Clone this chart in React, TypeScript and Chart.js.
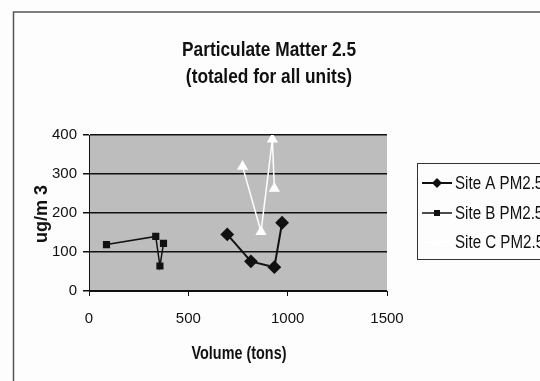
import React, { useEffect, useRef } from "react";
import { Chart, registerables } from "chart.js";

Chart.register(...registerables);

const titleLines = ["Particulate Matter 2.5", "(totaled for all units)"];
const xAxisTitle = "Volume (tons)";
const yAxisTitle = "ug/m 3";
const seriesNames = ["Site A PM2.5", "Site B PM2.5", "Site C PM2.5"];

const siteAX = [696, 815, 933, 972];
const siteAY = [145, 76, 61, 175];
const siteBX = [88, 336, 357, 375];
const siteBY = [119, 140, 64, 122];
const siteCX = [773, 866, 923, 933];
const siteCY = [319, 152, 389, 263];

const xTicks = [0, 500, 1000, 1500];
const yTicks = [0, 100, 200, 300, 400];

const FONT = '"Liberation Sans", Arial, sans-serif';

const toPts = (xs: number[], ys: number[]) => xs.map((x, i) => ({ x, y: ys[i] }));

function narrowText(ctx: any, text: string, x: number, y: number, sx: number, rot = 0) {
  ctx.save();
  ctx.translate(x, y);
  if (rot) ctx.rotate(rot);
  ctx.scale(sx, 1);
  ctx.fillText(text, 0, 0);
  ctx.restore();
}

const decorPlugin = {
  id: "decor",
  beforeDraw(chart: any) {
    const { ctx, chartArea } = chart;
    ctx.save();
    ctx.fillStyle = "#fdfdfd";
    ctx.fillRect(0, 0, chart.width, chart.height);
    ctx.strokeStyle = "#555";
    ctx.lineWidth = 1.5;
    ctx.beginPath();
    ctx.moveTo(13.5, chart.height);
    ctx.lineTo(13.5, 12);
    ctx.lineTo(chart.width, 12);
    ctx.stroke();
    ctx.fillStyle = "#bdbdbd";
    ctx.fillRect(chartArea.left, chartArea.top, chartArea.right - chartArea.left, chartArea.bottom - chartArea.top);
    ctx.restore();
  },
  afterDraw(chart: any) {
    const { ctx } = chart;
    ctx.save();
    ctx.fillStyle = "#111";
    ctx.textAlign = "center";
    ctx.textBaseline = "middle";
    ctx.font = `bold 20px ${FONT}`;
    narrowText(ctx, titleLines[0], 269, 50, 0.865);
    narrowText(ctx, titleLines[1], 269, 77, 0.865);
    ctx.font = `bold 18px ${FONT}`;
    narrowText(ctx, xAxisTitle, 239, 354, 0.8);
    narrowText(ctx, yAxisTitle, 42, 214, 1, -Math.PI / 2);

    ctx.strokeStyle = "#333";
    ctx.lineWidth = 1;
    ctx.strokeRect(417.5, 163.5, 200, 96);
    const rows = [183, 213, 242];
    const sets = chart.data.datasets;
    ctx.textAlign = "left";
    ctx.font = `18px ${FONT}`;
    rows.forEach((y, i) => {
      const ds = sets[i];
      ctx.strokeStyle = ds.borderColor;
      ctx.lineWidth = ds.borderWidth;
      ctx.beginPath();
      ctx.moveTo(422, y);
      ctx.lineTo(452, y);
      ctx.stroke();
      ctx.fillStyle = ds.pointBackgroundColor;
      ctx.beginPath();
      if (ds.pointStyle === "rectRot") {
        ctx.moveTo(437, y - 5);
        ctx.lineTo(442, y);
        ctx.lineTo(437, y + 5);
        ctx.lineTo(432, y);
        ctx.closePath();
        ctx.fill();
      } else if (ds.pointStyle === "rect") {
        ctx.fillRect(434, y - 3, 6, 6);
      } else {
        ctx.moveTo(437, y - 5);
        ctx.lineTo(442, y + 4);
        ctx.lineTo(432, y + 4);
        ctx.closePath();
        ctx.fill();
      }
      ctx.fillStyle = "#111";
      narrowText(ctx, ds.label, 455, y + 1, 0.84);
    });
    ctx.restore();
  },
};

export default function App() {
  const ref = useRef<HTMLCanvasElement | null>(null);
  useEffect(() => {
    document.body.style.margin = "0";
    const canvas = ref.current!;
    const chart = new Chart(canvas, {
      type: "scatter",
      data: {
        datasets: [
          {
            label: seriesNames[0],
            data: toPts(siteAX, siteAY),
            showLine: true,
            borderColor: "#111",
            borderWidth: 2,
            pointStyle: "rectRot",
            pointRadius: 5.5,
            pointBackgroundColor: "#111",
            pointBorderColor: "#111",
          },
          {
            label: seriesNames[1],
            data: toPts(siteBX, siteBY),
            showLine: true,
            borderColor: "#111",
            borderWidth: 1.5,
            pointStyle: "rect",
            pointRadius: 4,
            pointBackgroundColor: "#111",
            pointBorderColor: "#111",
          },
          {
            label: seriesNames[2],
            data: toPts(siteCX, siteCY),
            showLine: true,
            borderColor: "#ffffff",
            borderWidth: 1.5,
            pointStyle: "triangle",
            pointRadius: 5,
            pointBackgroundColor: "#ffffff",
            pointBorderColor: "#ffffff",
          },
        ],
      },
      options: {
        animation: false,
        responsive: false,
        devicePixelRatio: 1,
        layout: { padding: { left: 0, top: 135, right: 153, bottom: 0 } },
        plugins: { legend: { display: false }, title: { display: false }, tooltip: { enabled: false } },
        scales: {
          x: {
            type: "linear",
            min: xTicks[0],
            max: xTicks[xTicks.length - 1],
            afterFit: (s: any) => { s.height = 90; },
            afterBuildTicks: (s: any) => { s.ticks = xTicks.map((v) => ({ value: v })); },
            ticks: { color: "#111", font: { family: FONT, size: 15 }, padding: 14, maxRotation: 0, callback: (v: any) => String(v) },
            grid: { drawOnChartArea: false, drawTicks: true, tickLength: 5, color: "#111", lineWidth: 1 },
            border: { display: true, color: "#111", width: 1 },
          },
          y: {
            type: "linear",
            min: yTicks[0],
            max: yTicks[yTicks.length - 1],
            afterFit: (s: any) => { s.width = 89; },
            afterBuildTicks: (s: any) => { s.ticks = yTicks.map((v) => ({ value: v })); },
            ticks: { color: "#111", font: { family: FONT, size: 15 }, padding: 6, callback: (v: any) => String(v) },
            grid: { drawTicks: true, tickLength: 6, color: "#111", lineWidth: 1.5 },
            border: { display: true, color: "#111", width: 1 },
          },
        },
      },
      plugins: [decorPlugin],
    });
    return () => chart.destroy();
  }, []);
  return <canvas ref={ref} width={540} height={381} style={{ display: "block", width: 540, height: 381 }} />;
}
